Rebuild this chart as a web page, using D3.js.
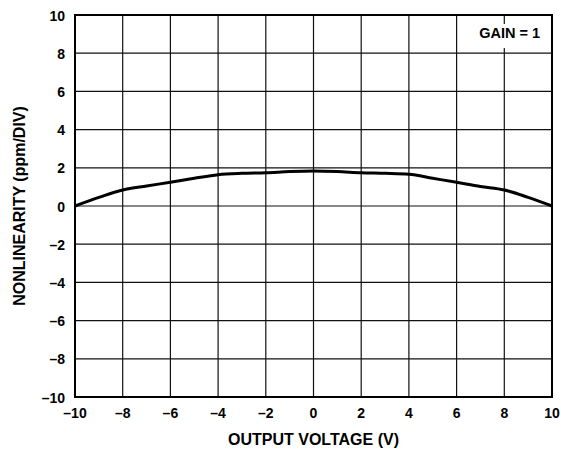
<!DOCTYPE html>
<html>
<head>
<meta charset="utf-8">
<script src="https://cdn.jsdelivr.net/npm/d3@7"></script>
<style>
  body { margin: 0; background: #fff; }
  text { font-family: "Liberation Sans", Arial, sans-serif; font-weight: bold; }
</style>
</head>
<body>
<div id="chart"></div>
<script>
// output voltage (V) and nonlinearity (ppm/DIV)
const voltage = [-10, -9, -8, -7, -6, -5, -4, -3, -2, -1, 0, 1, 2, 3, 4, 5, 6, 7, 8, 9, 10];
const nonlin = [0, 0.45, 0.84, 1.05, 1.24, 1.45, 1.64, 1.71, 1.74, 1.8, 1.83, 1.8, 1.74, 1.71, 1.66, 1.45, 1.24, 1.02, 0.84, 0.45, 0];
const xTicks = [-10, -8, -6, -4, -2, 0, 2, 4, 6, 8, 10];
const yTicks = [-10, -8, -6, -4, -2, 0, 2, 4, 6, 8, 10];

const width = 561, height = 450;
const margin = {left: 75, right: 9, top: 15, bottom: 53};

const svg = d3.select("#chart")
  .append("svg")
  .attr("width", width)
  .attr("height", height);

const x = d3.scaleLinear().domain([-10, 10]).range([margin.left, width - margin.right]);
const y = d3.scaleLinear().domain([-10, 10]).range([height - margin.bottom, margin.top]);

const fmt = d => d < 0 ? "\u2013" + Math.abs(d) : String(d);

// grid
svg.append("g")
  .selectAll("line")
  .data(xTicks)
  .join("line")
  .attr("x1", d => x(d)).attr("x2", d => x(d))
  .attr("y1", y(10)).attr("y2", y(-10))
  .attr("stroke", "#111").attr("stroke-width", 1.2);

svg.append("g")
  .selectAll("line")
  .data(yTicks)
  .join("line")
  .attr("y1", d => y(d)).attr("y2", d => y(d))
  .attr("x1", x(-10)).attr("x2", x(10))
  .attr("stroke", "#111").attr("stroke-width", 1.2);

// gain label with white background
const gain = svg.append("text")
  .attr("x", x(10) - 12)
  .attr("y", 38)
  .attr("text-anchor", "end")
  .style("font-size", "14.5px")
  .text("GAIN = 1");
const bb = gain.node().getBBox();
svg.insert("rect", "text")
  .attr("x", bb.x - 3).attr("y", 24)
  .attr("width", bb.width + 6).attr("height", 24)
  .attr("fill", "#fff");

// frame
svg.append("rect")
  .attr("x", x(-10)).attr("y", y(10))
  .attr("width", x(10) - x(-10)).attr("height", y(-10) - y(10))
  .attr("fill", "none").attr("stroke", "#000").attr("stroke-width", 2);

// curve
const line = d3.line()
  .x((d, i) => x(voltage[i]))
  .y(d => y(d))
  .curve(d3.curveMonotoneX);

svg.append("path")
  .datum(nonlin)
  .attr("d", line)
  .attr("fill", "none")
  .attr("stroke", "#000")
  .attr("stroke-width", 3);

// tick labels
svg.append("g")
  .selectAll("text")
  .data(xTicks)
  .join("text")
  .attr("x", d => x(d))
  .attr("y", y(-10) + 21)
  .attr("text-anchor", "middle")
  .style("font-size", "14px")
  .text(fmt);

svg.append("g")
  .selectAll("text")
  .data(yTicks)
  .join("text")
  .attr("x", x(-10) - 10)
  .attr("y", d => y(d) + 5.5)
  .attr("text-anchor", "end")
  .style("font-size", "14px")
  .text(fmt);

// axis titles
svg.append("text")
  .attr("x", (x(-10) + x(10)) / 2)
  .attr("y", 445)
  .attr("text-anchor", "middle")
  .style("font-size", "16px")
  .text("OUTPUT VOLTAGE (V)");

svg.append("text")
  .attr("transform", `translate(25, ${(y(10) + y(-10)) / 2}) rotate(-90)`)
  .attr("text-anchor", "middle")
  .style("font-size", "16px")
  .text("NONLINEARITY (ppm/DIV)");
</script>
</body>
</html>
